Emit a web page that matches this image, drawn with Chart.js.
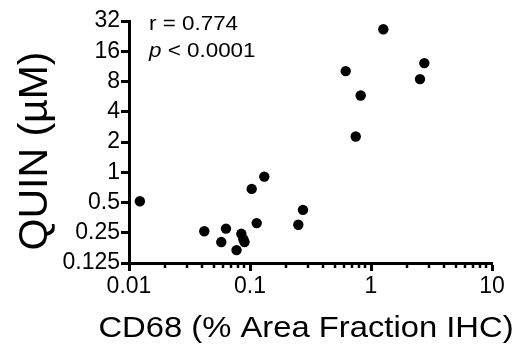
<!DOCTYPE html>
<html>
<head>
<meta charset="utf-8">
<script src="https://cdn.jsdelivr.net/npm/chart.js@4/dist/chart.umd.min.js"></script>
<style>
  html, body { margin: 0; padding: 0; background: #fff; }
  #wrap { width: 528px; height: 351px; }
</style>
</head>
<body>
<div id="wrap"><canvas id="c" width="528" height="351"></canvas></div>
<script>
// CD68 immunostaining (% area fraction) vs. QUIN concentration (µM)
const cd68 = [0.0123, 0.0419, 0.0633, 0.0579, 0.0848, 0.0881, 0.0901, 0.0774, 0.1136, 0.1033,
              0.1313, 0.2507, 0.274, 1.264, 0.618, 2.76, 2.54, 0.822, 0.748];
const quin = [0.514, 0.259, 0.275, 0.202, 0.244, 0.216, 0.202, 0.168, 0.312, 0.683,
              0.905, 0.30, 0.422, 26.5, 10.15, 12.2, 8.45, 5.81, 2.27];

const xMajorTicks = [0.01, 0.1, 1, 10];
const xMinorTicks = [0.02, 0.03, 0.04, 0.05, 0.06, 0.07, 0.08, 0.09,
                     0.2, 0.3, 0.4, 0.5, 0.6, 0.7, 0.8, 0.9,
                     2, 3, 4, 5, 6, 7, 8, 9];
const yTicks = [0.125, 0.25, 0.5, 1, 2, 4, 8, 16, 32];

const xTitle = 'CD68 (% Area Fraction IHC)';
const yTitle = 'QUIN (µM)';
const statR = 'r = 0.774';
const statP = ' < 0.0001';

const FONT = "'Liberation Sans', Arial, Helvetica, sans-serif";

const points = cd68.map((x, i) => ({ x: x, y: quin[i] }));

// short unlabeled ticks between the decades of the x axis
const minorTicks = {
  id: 'minorTicks',
  afterDraw(chart) {
    const xs = chart.scales.x;
    const ctx = chart.ctx;
    const y0 = chart.chartArea.bottom;
    ctx.save();
    ctx.strokeStyle = '#000';
    ctx.lineWidth = 2.5;
    xMinorTicks.forEach(v => {
      const px = Math.round(xs.getPixelForValue(v));
      ctx.beginPath();
      ctx.moveTo(px, y0);
      ctx.lineTo(px, y0 + 5);
      ctx.stroke();
    });
    ctx.restore();
  }
};

// text drawn a little wider than the font's natural proportions
function wideText(ctx, text, x, y, font, sx) {
  ctx.save();
  ctx.font = font;
  ctx.translate(x, y);
  ctx.scale(sx, 1);
  ctx.fillText(text, 0, 0);
  const w = ctx.measureText(text).width * sx;
  ctx.restore();
  return w;
}

// axis titles and the correlation statistics
const labels = {
  id: 'labels',
  afterDraw(chart) {
    const ctx = chart.ctx;
    const area = chart.chartArea;
    ctx.save();
    ctx.fillStyle = '#000';
    ctx.textBaseline = 'alphabetic';
    ctx.textAlign = 'left';

    // x-axis title
    const sxT = 1.13;
    ctx.font = '29px ' + FONT;
    const tw = ctx.measureText(xTitle).width * sxT;
    wideText(ctx, xTitle, 306 - tw / 2, 337, '29px ' + FONT, sxT);

    // y-axis title, reading upward
    ctx.save();
    ctx.translate(47, (area.top + area.bottom) / 2 + 9);
    ctx.rotate(-Math.PI / 2);
    ctx.textAlign = 'center';
    ctx.font = '41px ' + FONT;
    ctx.fillText(yTitle, 0, 0);
    ctx.restore();

    // statistics
    const x0 = 149;
    const sxS = 1.12;
    wideText(ctx, statR, x0, 30, '20px ' + FONT, sxS);
    const pw = wideText(ctx, 'p', x0, 57, 'italic 20px ' + FONT, sxS);
    wideText(ctx, statP, x0 + pw, 57, '20px ' + FONT, sxS);
    ctx.restore();
  }
};

new Chart(document.getElementById('c'), {
  type: 'scatter',
  data: {
    datasets: [{
      data: points,
      backgroundColor: '#000',
      borderColor: '#000',
      pointRadius: 5.2,
      pointHoverRadius: 5.2,
      borderWidth: 0
    }]
  },
  options: {
    responsive: false,
    animation: false,
    devicePixelRatio: 1,
    layout: { padding: { top: 21, right: 36, left: 0, bottom: 0 } },
    plugins: { legend: { display: false }, tooltip: { enabled: false } },
    scales: {
      x: {
        type: 'logarithmic',
        min: 0.01,
        max: 10,
        afterBuildTicks(scale) { scale.ticks = xMajorTicks.map(v => ({ value: v })); },
        afterFit(scale) { scale.height = 88; },
        border: { display: true, color: '#000', width: 3 },
        grid: { display: true, drawOnChartArea: false, drawTicks: true, tickLength: 8, tickWidth: 3, tickColor: '#000' },
        ticks: {
          color: '#000',
          padding: 2,
          maxRotation: 0,
          autoSkip: false,
          font: { family: FONT, size: 23 },
          callback: v => String(v)
        }
      },
      y: {
        type: 'logarithmic',
        min: 0.125,
        max: 32,
        afterBuildTicks(scale) { scale.ticks = yTicks.map(v => ({ value: v })); },
        afterFit(scale) { scale.width = 129; },
        border: { display: true, color: '#000', width: 3 },
        grid: { display: true, drawOnChartArea: false, drawTicks: true, tickLength: 8, tickWidth: 3, tickColor: '#000' },
        ticks: {
          color: '#000',
          padding: 1,
          autoSkip: false,
          font: { family: FONT, size: 23 },
          callback: v => String(v)
        }
      }
    }
  },
  plugins: [minorTicks, labels]
});
</script>
</body>
</html>
